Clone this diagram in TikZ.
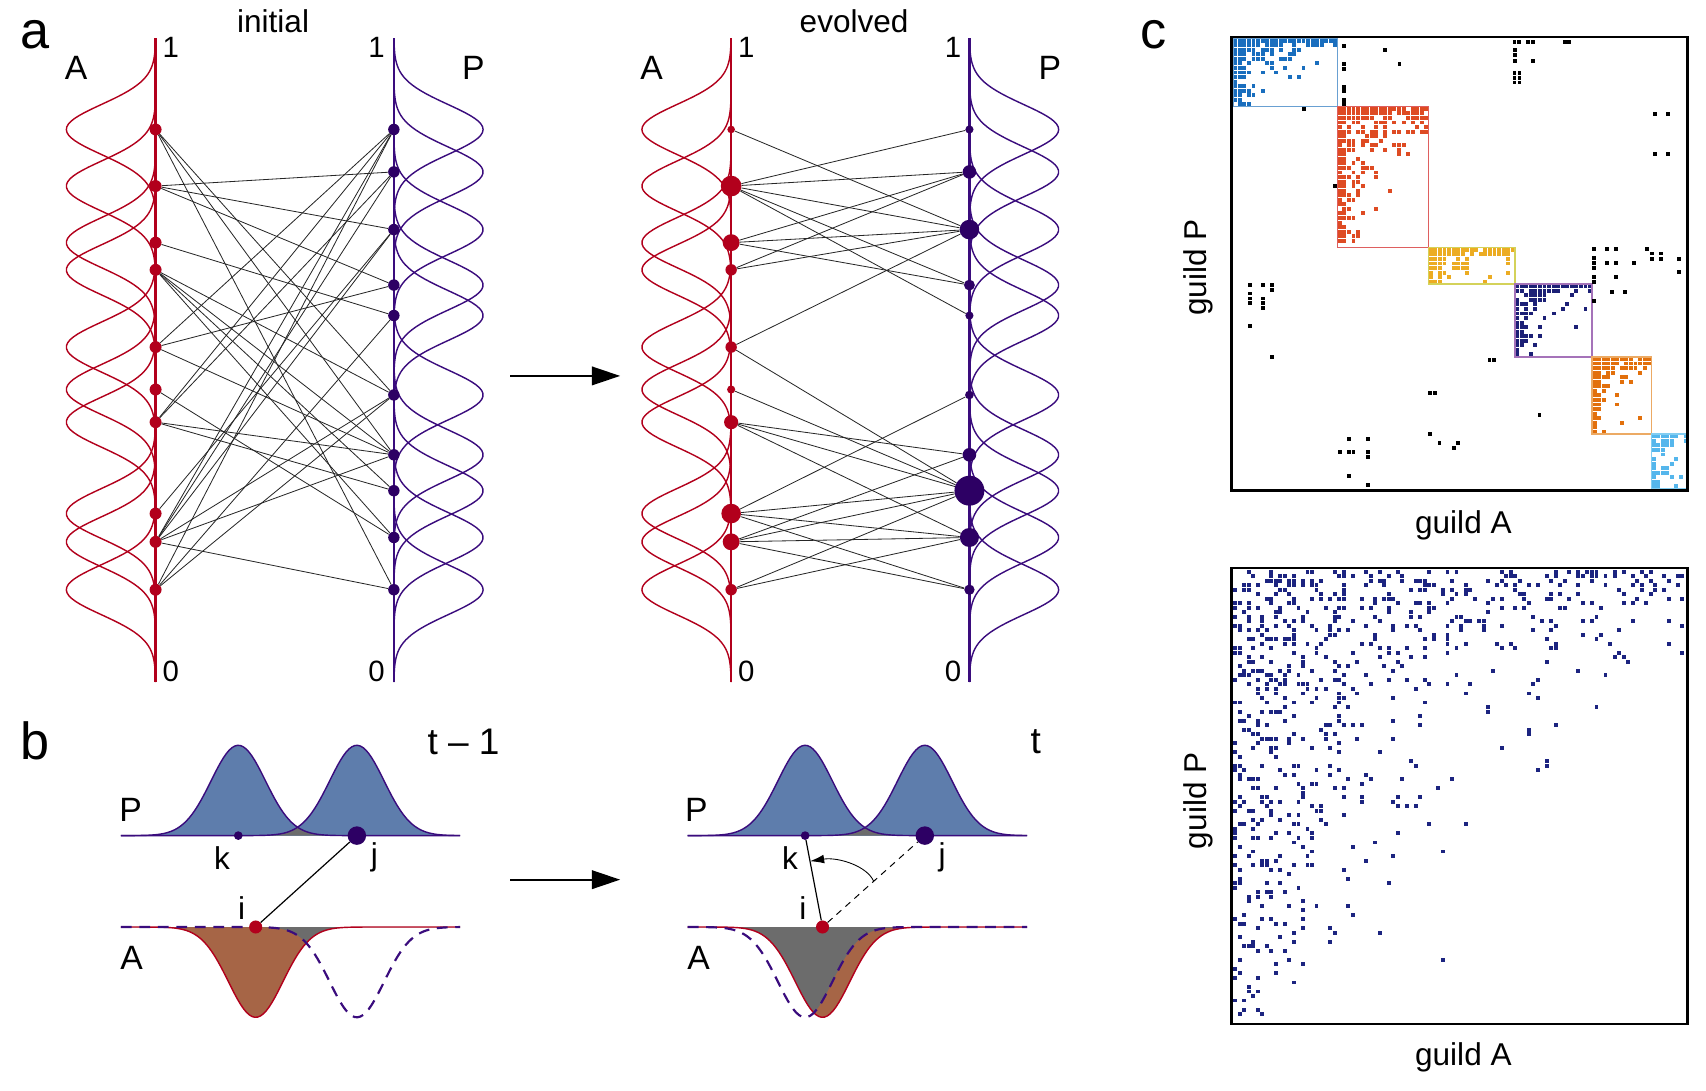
\documentclass[tikz,border=0pt]{standalone}
\usepackage{fontspec}
\setmainfont{Liberation Sans}
\usetikzlibrary{arrows.meta,calc}
\definecolor{ared}{RGB}{178,0,28}
\definecolor{ppur}{RGB}{45,0,100}
\definecolor{pcurve}{RGB}{58,12,125}
\definecolor{pblue}{RGB}{94,125,172}
\definecolor{abrown}{RGB}{166,101,70}
\definecolor{ovgray}{RGB}{108,108,108}
\definecolor{mblue}{RGB}{25,110,190}
\definecolor{mbluebox}{RGB}{105,160,210}
\definecolor{mred}{RGB}{222,75,35}
\definecolor{mredbox}{RGB}{222,95,95}
\definecolor{myel}{RGB}{236,172,35}
\definecolor{myelbox}{RGB}{212,210,90}
\definecolor{mnavy}{RGB}{28,32,118}
\definecolor{mpurbox}{RGB}{165,115,185}
\definecolor{morange}{RGB}{226,112,12}
\definecolor{morbox}{RGB}{236,170,100}
\definecolor{mlb}{RGB}{85,182,236}
\definecolor{mlbbox}{RGB}{130,205,242}
\definecolor{lnavy}{RGB}{28,36,128}

\newcommand\gaussv[4]{%
  \pgfmathsetmacro\glo{max(35,#2-92)}%
  \pgfmathsetmacro\ghi{min(627,#2+92)}%
  \draw[#4, line width=1.3pt] plot[domain=\glo:\ghi, samples=70, variable=\t] ({#1 #3 82*exp(-0.5*((\t-#2)/23)^2)},\t);}

\newcommand\dotgrid[7]{%
  \foreach \rr in {1,...,#4}{\foreach \cc in {1,...,#3}{%
    \pgfmathsetmacro\pp{rnd<(#6)}%
    \ifdim\pp pt>0.5pt\relax
      \fill[#5] ({#1+(\cc-0.5)*#7-1.8},{#2+(\rr-0.5)*#7-1.8}) rectangle +(3.6,3.6);%
    \fi}}}

\begin{document}
\begin{tikzpicture}[x=1pt,y=-1pt,
  lab/.style={font=\fontsize{29}{34}\selectfont, inner sep=0pt},
  num/.style={font=\fontsize{27}{32}\selectfont, inner sep=0pt},
  APl/.style={font=\fontsize{31}{36}\selectfont, inner sep=0pt},
  panel/.style={font=\fontsize{48}{52}\selectfont, inner sep=0pt},
  anode/.style={circle, fill=ared, inner sep=0pt},
  pnode/.style={circle, fill=ppur, inner sep=0pt},
  lnk/.style={line width=0.75pt, black!85},
  bigarrow/.style={line width=2pt, -{Triangle[length=26pt,width=17pt]}},
  pdash/.style={pcurve, line width=2pt, dash pattern=on 10pt off 7pt}]
\pgfmathsetseed{4242}
\fill[white] (0,0) rectangle (1568,1002);
\useasboundingbox (0,0) rectangle (1568,1002);

% ---------- panel a : gaussians and axes ----------
\foreach \yc in {119,171,223,248,319,358,388,472,498,542}{\gaussv{143}{\yc}{-}{ared}}
\foreach \yc in {119,158,211,262,290,363,418,451,494,542}{\gaussv{362}{\yc}{+}{pcurve}}
\foreach \yc in {119,171,223,248,319,358,388,472,498,542}{\gaussv{672}{\yc}{-}{ared}}
\foreach \yc in {119,158,211,262,290,363,418,451,494,542}{\gaussv{891}{\yc}{+}{pcurve}}
\draw[ared, line width=2.2pt] (143,35) -- (143,627);
\draw[pcurve, line width=2.2pt] (362,35) -- (362,627);
\draw[ared, line width=2.2pt] (672,35) -- (672,627);
\draw[pcurve, line width=2.2pt] (891,35) -- (891,627);

% initial nodes
\foreach \n/\y in {1/119,2/171,3/223,4/248,5/319,6/358,7/388,8/472,9/498,10/542}
  \node[anode, minimum size=11pt] (ia\n) at (143,\y) {};
\foreach \n/\y in {1/119,2/158,3/211,4/262,5/290,6/363,7/418,8/451,9/494,10/542}
  \node[pnode, minimum size=10.5pt] (ip\n) at (362,\y) {};
% evolved nodes
\foreach \n/\y/\s in {1/119/7,2/171/19,3/223/15.5,4/248/10.5,5/319/10.5,6/358/7.5,7/388/13,8/472/18,9/498/15.5,10/542/10.5}
  \node[anode, minimum size=\s pt] (ea\n) at (672,\y) {};
\foreach \n/\y/\s in {1/119/7.5,2/158/12.5,3/211/18,4/262/10,5/290/7.5,6/363/8,7/418/12.5,8/451/27.5,9/494/17.5,10/542/9.5}
  \node[pnode, minimum size=\s pt] (ep\n) at (891,\y) {};

% initial links
\foreach \a/\p in {1/6,1/7,1/10,2/2,2/3,2/4,3/5,4/6,4/7,4/8,4/9,5/1,5/4,5/7,6/9,7/1,7/2,7/7,7/8,8/3,9/1,9/2,9/3,9/6,9/7,9/10,10/1,10/5,10/6}
  \draw[lnk] (ia\a) -- (ip\p);
% evolved links
\foreach \a/\p in {1/3,2/1,2/2,2/3,2/4,2/5,3/2,3/3,3/4,4/2,4/3,5/3,5/8,6/8,7/7,7/8,7/9,8/6,8/8,8/9,8/10,9/7,9/8,9/9,9/10,10/8,10/9}
  \draw[lnk] (ea\a) -- (ep\p);

% labels panel a
\node[panel] (la) at (32,32) {a};
\node[lab] (tinit) at (251,19.5) {initial};
\node[lab] (tevol) at (785,19.5) {evolved};
\node[APl] (iA) at (70,62) {A};
\node[APl] (iP) at (435,62) {P};
\node[APl] (eA) at (599,62) {A};
\node[APl] (eP) at (965,62) {P};
\node[num] (i1a) at (157,44) {1};
\node[num] (i1p) at (346,44) {1};
\node[num] (e1a) at (686,44) {1};
\node[num] (e1p) at (876,44) {1};
\node[num] (i0a) at (157,617) {0};
\node[num] (i0p) at (346,617) {0};
\node[num] (e0a) at (686,617) {0};
\node[num] (e0p) at (876,617) {0};
\coordinate (arAs) at (469,345.5);
\coordinate (arAe) at (570,345.5);
\draw[bigarrow] (arAs) -- (arAe);

% ---------- panel b (t-1) ----------
\fill[pblue] plot[domain=111:423,samples=120] (\x,{768-83*exp(-0.5*((\x-219)/25)^2)}) -- cycle;
\fill[pblue] plot[domain=111:423,samples=120] (\x,{768-83*exp(-0.5*((\x-328)/25)^2)}) -- cycle;
\begin{scope}
\clip plot[domain=111:423,samples=120] (\x,{768-83*exp(-0.5*((\x-219)/25)^2)}) -- cycle;
\fill[ovgray] plot[domain=111:423,samples=120] (\x,{768-83*exp(-0.5*((\x-328)/25)^2)}) -- cycle;
\end{scope}
\draw[pcurve, line width=1.3pt] plot[domain=111:423,samples=120] (\x,{768-83*exp(-0.5*((\x-219)/25)^2)});
\draw[pcurve, line width=1.3pt] plot[domain=111:423,samples=120] (\x,{768-83*exp(-0.5*((\x-328)/25)^2)});
\fill[abrown] plot[domain=111:423,samples=120] (\x,{852+83*exp(-0.5*((\x-235)/25)^2)}) -- cycle;
\begin{scope}
\clip plot[domain=111:423,samples=120] (\x,{852+83*exp(-0.5*((\x-328)/25)^2)}) -- cycle;
\fill[ovgray] plot[domain=111:423,samples=120] (\x,{852+83*exp(-0.5*((\x-235)/25)^2)}) -- cycle;
\end{scope}
\draw[ared, line width=1.3pt] plot[domain=111:423,samples=120] (\x,{852+83*exp(-0.5*((\x-235)/25)^2)});
\draw[pdash] plot[domain=111:423,samples=120] (\x,{852+83*exp(-0.5*((\x-328)/25)^2)});
\node[pnode, minimum size=8pt] (bk) at (219,768) {};
\node[pnode, minimum size=17pt] (bj) at (328,768) {};
\node[anode, minimum size=12pt] (bi) at (235,852) {};
\draw[line width=1.1pt] (bi) -- (bj);

% ---------- panel b (t) ----------
\fill[pblue] plot[domain=632:944,samples=120] (\x,{768-83*exp(-0.5*((\x-740)/25)^2)}) -- cycle;
\fill[pblue] plot[domain=632:944,samples=120] (\x,{768-83*exp(-0.5*((\x-850)/25)^2)}) -- cycle;
\begin{scope}
\clip plot[domain=632:944,samples=120] (\x,{768-83*exp(-0.5*((\x-740)/25)^2)}) -- cycle;
\fill[ovgray] plot[domain=632:944,samples=120] (\x,{768-83*exp(-0.5*((\x-850)/25)^2)}) -- cycle;
\end{scope}
\draw[pcurve, line width=1.3pt] plot[domain=632:944,samples=120] (\x,{768-83*exp(-0.5*((\x-740)/25)^2)});
\draw[pcurve, line width=1.3pt] plot[domain=632:944,samples=120] (\x,{768-83*exp(-0.5*((\x-850)/25)^2)});
\fill[abrown] plot[domain=632:944,samples=120] (\x,{852+83*exp(-0.5*((\x-756)/25)^2)}) -- cycle;
\begin{scope}
\clip plot[domain=632:944,samples=120] (\x,{852+83*exp(-0.5*((\x-740)/25)^2)}) -- cycle;
\fill[ovgray] plot[domain=632:944,samples=120] (\x,{852+83*exp(-0.5*((\x-756)/25)^2)}) -- cycle;
\end{scope}
\draw[ared, line width=1.3pt] plot[domain=632:944,samples=120] (\x,{852+83*exp(-0.5*((\x-756)/25)^2)});
\draw[pdash] plot[domain=632:944,samples=120] (\x,{852+83*exp(-0.5*((\x-740)/25)^2)});
\node[pnode, minimum size=8pt] (ck) at (740,768) {};
\node[pnode, minimum size=17pt] (cj) at (850,768) {};
\node[anode, minimum size=12pt] (ci) at (756,852) {};
\draw[line width=1.1pt] (ci) -- (ck);
\draw[line width=0.9pt, dash pattern=on 6pt off 5pt] (ci) -- (cj);
\coordinate (arcS) at ($(ci)!0.5!(cj)$);
\coordinate (arcE) at ($(ci)!0.72!(ck)$);
\draw[line width=0.8pt, -{Latex[length=13pt,width=8pt]}] (arcS) .. controls +(-6,-14) and +(26,-4) .. (arcE);

\node[panel] (lb) at (32,681) {b};
\node[font=\fontsize{34}{38}\selectfont, inner sep=0pt] (tm1) at (426,682) {t – 1};
\node[font=\fontsize{34}{38}\selectfont, inner sep=0pt] (tt) at (952,682) {t};
\node[APl] (bP) at (120,744) {P};
\node[APl] (bA) at (121,880) {A};
\node[lab] (bkl) at (204,789) {k};
\node[lab] (bjl) at (344,788) {j};
\node[lab] (bil) at (222,835) {i};
\node[APl] (cP) at (640,744) {P};
\node[APl] (cA) at (642,880) {A};
\node[lab] (ckl) at (726,789) {k};
\node[lab] (cjl) at (866,788) {j};
\node[lab] (cil) at (738,835) {i};
\coordinate (arBs) at (469,808.5);
\coordinate (arBe) at (570,808.5);
\draw[bigarrow] (arBs) -- (arBe);

% ---------- panel c ----------
\node[panel] (lc) at (1060,32) {c};
% modular blocks
\dotgrid{1133.25}{35.25}{23}{15}{mblue}{0.95*exp(-(\rr-1)*(\cc-1)/36)}{4.18}
\dotgrid{1229.39}{97.95}{20}{31}{mred}{0.95*exp(-(\rr-1)*(\cc-1)/55)}{4.18}
\dotgrid{1313.0}{227.53}{19}{8}{myel}{0.95*exp(-(\rr-1)*(\cc-1)/26)}{4.18}
\dotgrid{1392.41}{260.97}{17}{16}{mnavy}{0.95*exp(-(\rr-1)*(\cc-1)/26)}{4.18}
\dotgrid{1463.47}{327.85}{13}{17}{morange}{0.95*exp(-(\rr-1)*(\cc-1)/23)}{4.18}
\dotgrid{1517.81}{398.91}{8}{12}{mlb}{0.92*exp(-(\rr-1)*(\cc-1)/20)}{4.18}
\draw[mbluebox, line width=1.5pt] (1133.25,35.25) rectangle (1229.39,97.95);
\draw[mredbox, line width=1.5pt] (1229.39,97.95) rectangle (1313.0,227.53);
\draw[myelbox, line width=1.5pt] (1313.0,227.53) rectangle (1392.41,260.97);
\draw[mpurbox, line width=1.5pt] (1392.41,260.97) rectangle (1463.47,327.85);
\draw[morbox, line width=1.5pt] (1463.47,327.85) rectangle (1517.81,398.91);
\draw[mlbbox, line width=1.5pt] (1517.81,398.91) rectangle (1550.5,449.1);
% off-module links
\foreach \cc/\rr in {24.8/2.0,24.8/6.0,24.8/7.1,24.8/10.9,24.8/11.9,24.8/13.9,24.8/14.8,33.8/2.9,36.9/6.0,16/15.9,22.8/32.8,
  62.2/1.0,63.1/1.0,65.2/1.0,66.3/1.0,73.2/1.0,74.2/1.0,62.4/2.9,62.4/4.0,62.4/5.2,66.3/5.2,62.2/7.9,63.3/7.9,62.2/9.0,63.3/9.0,62.2/10.0,63.3/10.0,93.0/17.0,95.9/17.0,93.0/25.8,95.9/25.8,
  79.6/46.7,82.5/46.7,84.5/46.7,91.4/46.7,92.5/47.6,94.4/47.6,79.6/48.5,79.6/49.7,82.5/49.7,84.5/49.7,88.4/49.7,79.6/50.8,92.5/48.8,94.4/48.8,98.4/48.8,98.4/51.7,79.6/52.7,84.5/52.7,79.6/53.9,83.6/56.0,86.5/56.0,79.6/58.0,
  56.7/71.1,57.6/71.1,43.7/78.3,44.8/78.3,67.7/83.2,43.7/87.3,45.7/89.3,49.7/89.3,48.8/90.3,25.9/88.4,29.9/88.4,23.9/91.3,25.9/91.3,26.8/91.3,29.9/91.3,29.9/92.4,25.9/96.5,29.9/98.5,
  4.0/54.5,6.9/54.5,8.9/54.5,8.9/55.6,4.0/56.4,4.0/57.5,4.0/58.5,6.9/57.5,6.9/58.5,6.9/59.6,4.0/63.5,8.8/70.3}
  \fill[black] ({1132+\cc*4.18-1.8},{34+\rr*4.18-1.8}) rectangle +(3.6,3.6);
\draw[line width=2.4pt] (1132,34) rectangle (1551,451);
\node[lab, rotate=90] (gp1) at (1101,246) {guild P};
\node[lab] (ga1) at (1345,483) {guild A};

% lower nested matrix
\foreach \rr in {1,...,99}{%
  \pgfmathtruncatemacro\cmax{min(100,5000/\rr)}%
  \foreach \cc in {1,...,\cmax}{%
    \pgfmathsetmacro\pp{rnd<(0.3*exp(-\rr*\cc/800))}%
    \ifdim\pp pt>0.5pt\relax
      \fill[lnavy] ({1133.25+(\cc-0.5)*4.15-1.8},{523.25+(\rr-0.5)*4.15-1.8}) rectangle +(3.6,3.6);%
    \fi}}
\draw[line width=2.4pt] (1132,522) rectangle (1551,941);
\node[lab, rotate=90] (gp2) at (1101,736) {guild P};
\node[lab] (ga2) at (1345,972) {guild A};
\end{tikzpicture}
\end{document}
